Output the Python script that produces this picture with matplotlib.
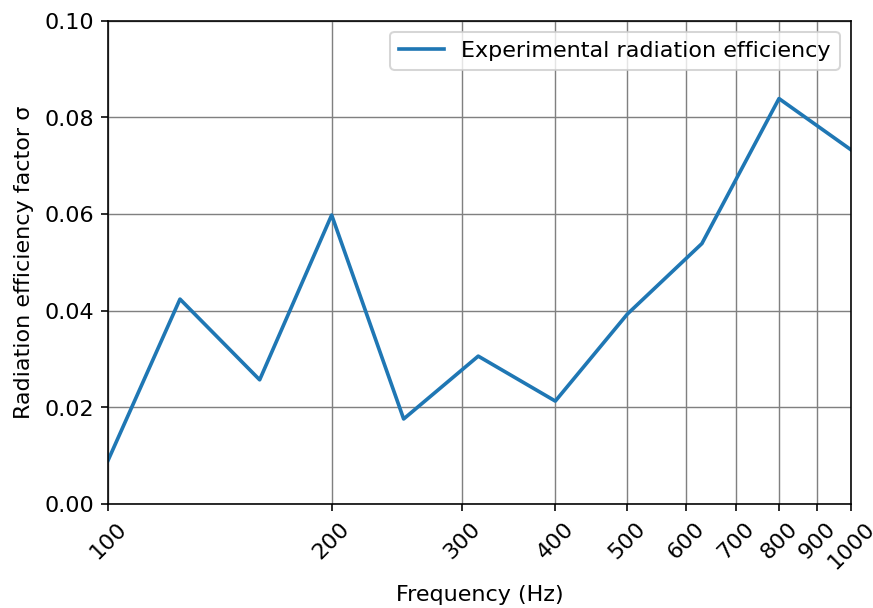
import matplotlib
matplotlib.use("Agg")
import matplotlib.pyplot as plt
from matplotlib.ticker import FixedLocator, NullLocator, FixedFormatter

# third-octave band centre frequencies and measured radiation efficiency
freqs = [100, 125, 160, 200, 250, 315, 400, 500, 630, 800, 1000]
sigma = [0.0090, 0.0424, 0.0257, 0.0598, 0.0176, 0.0306, 0.0213, 0.0393, 0.0539, 0.0839, 0.0733]

tick_freqs = [100, 200, 300, 400, 500, 600, 700, 800, 900, 1000]
tick_labels = [str(f) for f in tick_freqs]

plt.rcParams["font.size"] = 11

fig, ax = plt.subplots(figsize=(6.0, 4.18), dpi=145.5)
fig.subplots_adjust(left=0.1237, right=0.9748, top=0.9655, bottom=0.171)

ax.plot(freqs, sigma, color="#1f77b4", linewidth=1.8, label="Experimental radiation efficiency")
ax.set_xscale("log")
ax.set_xlim(100, 1000)
ax.set_ylim(0, 0.1)

ax.xaxis.set_major_locator(FixedLocator(tick_freqs))
ax.xaxis.set_major_formatter(FixedFormatter(tick_labels))
ax.xaxis.set_minor_locator(NullLocator())
ax.tick_params(axis="x", rotation=45)

ax.grid(True, color="gray", linewidth=0.7)
ax.set_xlabel("Frequency (Hz)", labelpad=6)
ax.set_ylabel("Radiation efficiency factor σ", labelpad=5)
ax.legend(loc="upper right")

fig.savefig("out.png", dpi=145.5)
